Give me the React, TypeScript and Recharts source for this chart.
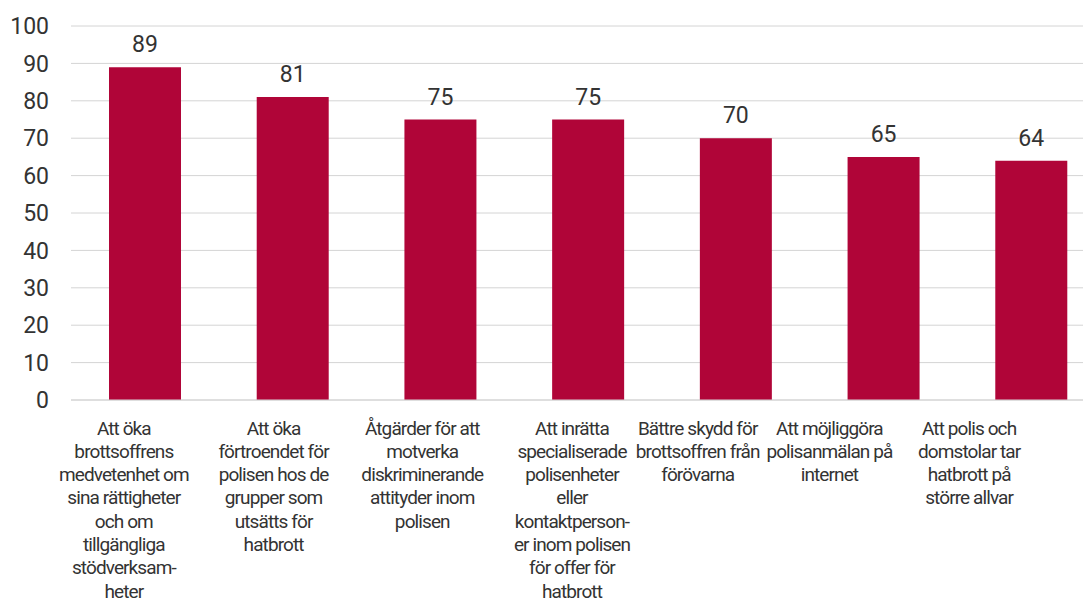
import React from 'react';
import { BarChart, Bar, XAxis, YAxis, CartesianGrid, LabelList } from 'recharts';

const categories: string[][] = [
  ['Att öka', 'brottsoffrens', 'medvetenhet om', 'sina rättigheter', 'och om', 'tillgängliga', 'stödverksam-', 'heter'],
  ['Att öka', 'förtroendet för', 'polisen hos de', 'grupper som', 'utsätts för', 'hatbrott'],
  ['Åtgärder för att', 'motverka', 'diskriminerande', 'attityder inom', 'polisen'],
  ['Att inrätta', 'specialiserade', 'polisenheter', 'eller', 'kontaktperson-', 'er inom polisen', 'för offer för', 'hatbrott'],
  ['Bättre skydd för', 'brottsoffren från', 'förövarna'],
  ['Att möjliggöra', 'polisanmälan på', 'internet'],
  ['Att polis och', 'domstolar tar', 'hatbrott på', 'större allvar'],
];

const values: number[] = [89, 81, 75, 75, 70, 65, 64];

const yTicks: number[] = [0, 10, 20, 30, 40, 50, 60, 70, 80, 90, 100];

const data = categories.map((lines, i) => ({ name: String(i), value: values[i] }));

// horizontal label placement relative to the bar center, as in the reference
const LABEL_SHIFT = [-21, -19, -18, -16, -38, -54, -62];

const CAT_FONT = 'Roboto, sans-serif';
const NUM_FONT = 'Roboto, sans-serif';

const CategoryTick = (props: any) => {
  const { x, y, payload } = props;
  const idx = Number(payload.value);
  const lines = categories[idx] || [];
  const cx = x + (LABEL_SHIFT[idx] || 0);
  return (
    <text
      x={cx}
      y={y}
      textAnchor="middle"
      fill="#333333"
      fontSize={19}
      letterSpacing={-0.9}
      fontFamily={CAT_FONT}
    >
      {lines.map((l, i) => (
        <tspan key={i} x={cx} dy={i === 0 ? 12.5 : 23.3}>
          {l}
        </tspan>
      ))}
    </text>
  );
};

export default function App() {
  return (
    <div
      style={{
        position: 'absolute',
        left: 0,
        top: 0,
        width: 1083,
        height: 603,
        overflow: 'hidden',
        background: '#ffffff',
      }}
    >
      <BarChart
        width={1105}
        height={603}
        data={data}
        margin={{ top: 26, right: 0, bottom: 0, left: 0 }}
      >
        <CartesianGrid vertical={false} stroke="#d4d4d4" strokeWidth={1} />
        <XAxis
          dataKey="name"
          axisLine={{ stroke: '#d4d4d4' }}
          tickLine={false}
          tickSize={0}
          tickMargin={22}
          height={203}
          interval={0}
          tick={<CategoryTick />}
        />
        <YAxis
          domain={[0, 100]}
          ticks={yTicks}
          axisLine={false}
          tickLine={false}
          tickSize={0}
          tickMargin={22}
          width={71}
          tick={{ fill: '#333333', fontSize: 23, fontFamily: NUM_FONT }}
        />
        <Bar dataKey="value" fill="#B00538" barSize={72} isAnimationActive={false}>
          <LabelList
            dataKey="value"
            position="top"
            offset={15}
            fill="#333333"
            fontSize={23}
            fontFamily={NUM_FONT}
          />
        </Bar>
      </BarChart>
    </div>
  );
}
